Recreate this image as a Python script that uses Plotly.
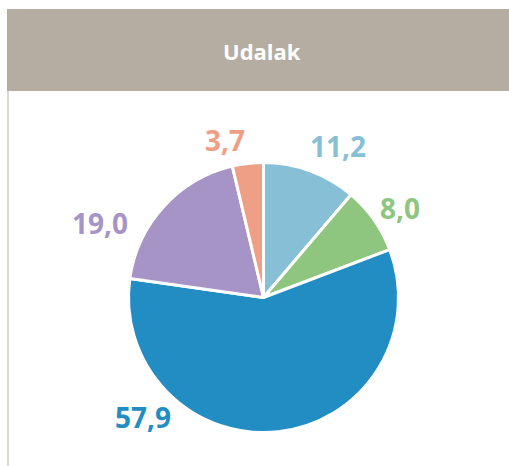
import plotly.graph_objects as go

title = "Udalak"
labels = ["A", "B", "C", "D", "E"]
values = [11.2, 8.0, 57.9, 19.0, 3.7]
colors = ["#86bfd6", "#8ec67f", "#218dc3", "#a694c6", "#ef9f85"]

# label placement (pixel centres, layout only)
label_pos = [(338, 146), (400, 208), (143, 417), (100, 223), (225, 140)]

W, H = 509, 466
CX, CY, R = 263.5, 297.5, 135

fig = go.Figure(go.Pie(
    labels=labels,
    values=values,
    sort=False,
    direction="clockwise",
    rotation=0,
    marker=dict(colors=colors, line=dict(color="white", width=3)),
    textinfo="none",
    showlegend=False,
    hoverinfo="skip",
    domain=dict(x=[(CX - R) / W, (CX + R) / W], y=[(H - CY - R) / H, (H - CY + R) / H]),
))

annotations = [
    dict(text=title, xref="paper", yref="paper", x=262 / W, y=1 - 51 / H, showarrow=False,
         font=dict(family="Open Sans", size=22, color="white", weight="bold"),
         xanchor="center", yanchor="middle"),
]
for v, c, (px, py) in zip(values, colors, label_pos):
    annotations.append(dict(
        text=f"{v:.1f}".replace(".", ","), xref="paper", yref="paper",
        x=px / W, y=1 - py / H, showarrow=False, xanchor="center", yanchor="middle",
        font=dict(family="Open Sans", size=28, color=c, weight="bold"),
    ))

fig.update_layout(
    width=W, height=H,
    margin=dict(l=0, r=0, t=0, b=0),
    paper_bgcolor="white",
    plot_bgcolor="white",
    separators=",.",
    shapes=[
        dict(type="rect", xref="paper", yref="paper", x0=7 / W, x1=1, y0=1 - 91 / H, y1=1 - 9 / H,
             fillcolor="#b5ada2", line=dict(width=0), layer="below"),
        dict(type="line", xref="paper", yref="paper", x0=8 / W, x1=8 / W, y0=0, y1=1 - 91 / H,
             line=dict(color="#dcd8d2", width=2)),
    ],
    annotations=annotations,
)

fig.write_html(
    "out.html", config={"displayModeBar": False},
    post_script=("document.documentElement.style.overflow='hidden';"
                 "document.body.style.margin='0';document.body.style.overflow='hidden';"),
)
